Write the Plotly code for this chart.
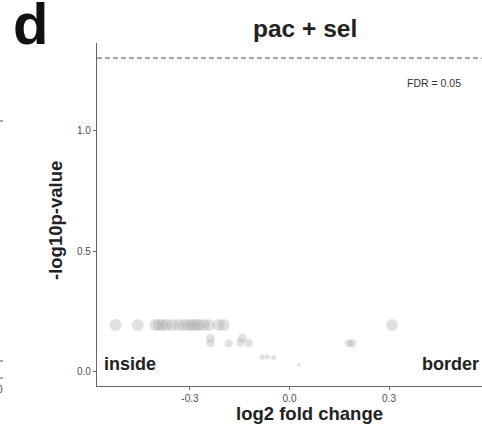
import plotly.graph_objects as go

# data
log2fc = [-0.524, -0.457, -0.404, -0.394, -0.383, -0.370, -0.353, -0.333, -0.318,
          -0.303, -0.293, -0.283, -0.273, -0.258, -0.243, -0.213, -0.198, 0.309,
          -0.238, -0.238, -0.183, -0.148, -0.142, -0.123, 0.179, 0.189,
          -0.082, -0.067, -0.047, 0.028]
neglog10p = [0.193, 0.193, 0.193, 0.193, 0.193, 0.193, 0.193, 0.193, 0.193,
             0.193, 0.193, 0.193, 0.193, 0.193, 0.193, 0.193, 0.193, 0.193,
             0.138, 0.117, 0.117, 0.120, 0.138, 0.117, 0.117, 0.117,
             0.060, 0.062, 0.058, 0.027]
fdr_line = 1.3
x_ticks = [-0.3, 0.0, 0.3]
y_ticks = [0.0, 0.5, 1.0]

W, H = 482, 431
L, R, T, B = 97, 0, 43, 45
pw, ph = W - L - R, H - T - B


def px(x):
    return (x - L) / pw


def py(y):
    return (H - B - y) / ph


FONT = "Liberation Sans, Arial, sans-serif"
sizes = [2 + 52 * v for v in neglog10p]

fig = go.Figure()
fig.add_trace(go.Scatter(
    x=log2fc, y=neglog10p, mode="markers",
    marker=dict(size=sizes, color="rgba(160,160,160,0.45)", line=dict(width=0)),
    hoverinfo="x+y", showlegend=False))

fig.add_shape(type="line", xref="paper", yref="y", x0=0, x1=1, y0=fdr_line, y1=fdr_line,
              line=dict(color="#777777", width=1.3, dash="5px,3px"))

annots = [
    dict(text="<b>d</b>", x=px(11), y=py(24), xanchor="left", yanchor="middle",
         font=dict(size=58, color="#111111")),
    dict(text="<b>pac + sel</b>", x=px(304.5), y=py(29), xanchor="center", yanchor="middle",
         font=dict(size=24.5, color="#222222")),
    dict(text="FDR = 0.05", x=px(434), y=py(82.5), xanchor="center", yanchor="middle",
         font=dict(size=10.5, color="#333333")),
    dict(text="<b>inside</b>", x=px(102), y=py(363.5), xanchor="left", yanchor="middle",
         font=dict(size=18, color="#222222")),
    dict(text="<b>border</b>", x=px(480.5), y=py(363.5), xanchor="right", yanchor="middle",
         font=dict(size=18, color="#222222")),
    dict(text="<b>log2 fold change</b>", x=px(309), y=py(413), xanchor="center", yanchor="middle",
         font=dict(size=18.5, color="#222222")),
    dict(text="<b>-log10p-value</b>", x=px(55), y=py(221), xanchor="center", yanchor="middle",
         textangle=-90, font=dict(size=18.5, color="#222222")),
    dict(text="0", x=px(5), y=py(389), xanchor="right", yanchor="middle",
         font=dict(size=10, color="#444444")),
]
for a in annots:
    fig.add_annotation(xref="paper", yref="paper", showarrow=False, **a)

for yy in [121, 361, 378]:
    fig.add_shape(type="line", xref="paper", yref="paper", x0=px(0), x1=px(3), y0=py(yy), y1=py(yy),
                  line=dict(color="#555555", width=1))

fig.update_layout(
    width=W, height=H,
    margin=dict(l=L, r=R, t=T, b=B),
    paper_bgcolor="white", plot_bgcolor="white",
    font=dict(family=FONT),
    xaxis=dict(range=[-0.58, 0.58], tickvals=x_ticks, ticktext=["-0.3", "0.0", "0.3"],
               showgrid=False, zeroline=False, showline=True, linecolor="#666666", linewidth=1.3,
               ticks="outside", ticklen=3, tickcolor="#666666", tickwidth=1,
               tickfont=dict(size=10, color="#4d4d4d")),
    yaxis=dict(range=[-0.060, 1.363], tickvals=y_ticks, ticktext=["0.0", "0.5", "1.0"],
               showgrid=False, zeroline=False, showline=True, linecolor="#666666", linewidth=1.3,
               ticks="outside", ticklen=3, tickcolor="#666666", tickwidth=1,
               tickfont=dict(size=10, color="#4d4d4d")),
)

fig.write_html("out.html", config={"displayModeBar": False},
               post_script="document.body.style.margin='0';document.body.style.overflow='hidden';")
